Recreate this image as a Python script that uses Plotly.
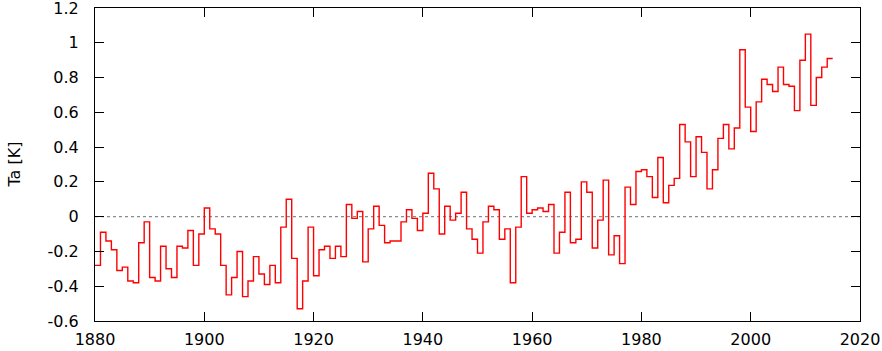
import plotly.graph_objects as go

years = list(range(1880, 2015))
anomaly = [
    -0.28, -0.09, -0.14, -0.19, -0.31, -0.29, -0.37, -0.38, -0.15, -0.03,
    -0.35, -0.37, -0.17, -0.30, -0.35, -0.17, -0.18, -0.08, -0.28, -0.10,
    0.05, -0.07, -0.10, -0.28, -0.45, -0.35, -0.20, -0.46, -0.37, -0.23,
    -0.33, -0.39, -0.28, -0.38, -0.06, 0.10, -0.24, -0.53, -0.37, -0.06,
    -0.34, -0.19, -0.17, -0.24, -0.17, -0.23, 0.07, -0.01, 0.03, -0.26,
    -0.07, 0.06, -0.05, -0.15, -0.14, -0.14, -0.03, 0.04, -0.01, -0.08,
    0.02, 0.25, 0.16, -0.10, 0.06, -0.02, 0.02, 0.14, -0.07, -0.13,
    -0.21, -0.03, 0.06, 0.04, -0.13, -0.07, -0.38, -0.06, 0.23, 0.02,
    0.04, 0.05, 0.03, 0.07, -0.21, -0.09, 0.14, -0.15, -0.13, 0.20,
    0.14, -0.18, -0.02, 0.21, -0.22, -0.11, -0.27, 0.17, 0.07, 0.26,
    0.27, 0.23, 0.11, 0.34, 0.08, 0.18, 0.22, 0.53, 0.43, 0.23,
    0.46, 0.37, 0.16, 0.27, 0.45, 0.53, 0.39, 0.51, 0.96, 0.63,
    0.49, 0.66, 0.79, 0.76, 0.72, 0.86, 0.76, 0.75, 0.61, 0.90,
    1.05, 0.64, 0.80, 0.86, 0.91,
]
x_ticks = [1880, 1900, 1920, 1940, 1960, 1980, 2000, 2020]
y_ticks = [-0.6, -0.4, -0.2, 0, 0.2, 0.4, 0.6, 0.8, 1, 1.2]
y_tick_labels = ["-0.6", "-0.4", "-0.2", "0", "0.2", "0.4", "0.6", "0.8", "1", "1.2"]

# step line: each year's value spans [year, year+1]
xs = years + [years[-1] + 1]
ys = anomaly + [anomaly[-1]]

fig = go.Figure()
fig.add_trace(go.Scatter(
    x=xs, y=ys, mode="lines",
    line=dict(color="#ff0000", width=1.4, shape="hv"),
    showlegend=False, hoverinfo="skip",
))

fig.add_shape(type="line", xref="paper", yref="y", x0=0, x1=1, y0=0, y1=0,
              line=dict(color="#8c8c8c", width=1.3, dash="dot"), layer="below")

axis_common = dict(
    showline=True, mirror="allticks", linecolor="black", linewidth=1,
    ticks="inside", ticklen=9, tickwidth=1, tickcolor="black",
    showgrid=False, zeroline=False, automargin=False,
    ticklabeloverflow="allow",
    tickfont=dict(family="DejaVu Sans", size=16, color="black"),
)

fig.update_xaxes(range=[1880, 2020], tickvals=x_ticks, ticklabelstandoff=4, **axis_common)
fig.update_yaxes(range=[-0.6001, 1.2001], tickvals=y_ticks, ticktext=y_tick_labels,
                 ticklabelstandoff=12, **axis_common)

L, R, T, B = 95, 22, 8, 30
fig.add_annotation(
    text="Ta [K]", textangle=-90, showarrow=False,
    xref="paper", yref="paper", x=(14 - L) / (882 - L - R), y=0.5,
    xanchor="center", yanchor="middle",
    font=dict(family="DejaVu Sans", size=16, color="black"),
)

fig.update_layout(
    width=882, height=351,
    margin=dict(l=L, r=R, t=T, b=B, autoexpand=False),
    plot_bgcolor="white", paper_bgcolor="white",
    font=dict(family="DejaVu Sans", size=16, color="black"),
)

fig.write_html("out.html", config={"displayModeBar": False},
               post_script="document.body.style.margin='0';document.body.style.overflow='hidden';")
